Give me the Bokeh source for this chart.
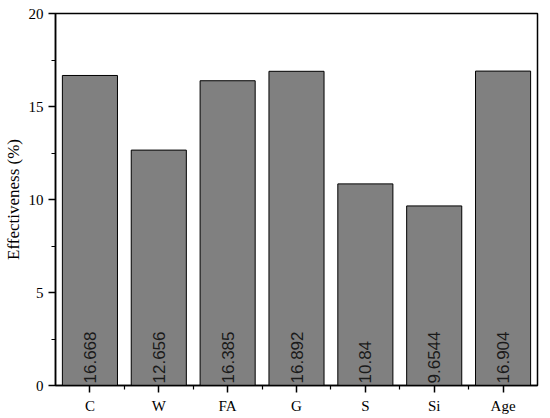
import math
from bokeh.plotting import figure
from bokeh.models import ColumnDataSource, FixedTicker, Range1d
from bokeh.core.properties import value
from bokeh.embed import file_html
from bokeh.resources import INLINE

categories = ["C", "W", "FA", "G", "S", "Si", "Age"]
effectiveness = [16.668, 12.656, 16.385, 16.892, 10.84, 9.6544, 16.904]
value_labels = ["16.668", "12.656", "16.385", "16.892", "10.84", "9.6544", "16.904"]
y_ticks = [0, 5, 10, 15, 20]
y_minor_ticks = [2.5, 7.5, 12.5, 17.5]

xpos = [i + 0.5 for i in range(len(categories))]
source = ColumnDataSource(dict(x=xpos, top=effectiveness, label=value_labels,
                               base=[0] * len(categories)))

p = figure(width=545, height=416, output_backend="svg", toolbar_location=None,
           x_range=Range1d(0, len(categories)), y_range=Range1d(0, 20),
           min_border_left=55, min_border_right=8, min_border_top=13, min_border_bottom=10)

p.vbar(x="x", top="top", width=0.8, source=source, fill_color="#808080",
       line_color="#000000", line_width=1)

p.text(x="x", y="base", text="label", source=source, angle=math.pi / 2,
       text_align="left", text_baseline="middle", y_offset=-2,
       text_font=value("Liberation Sans"), text_font_size="17px", text_color="#1a1a1a")

p.grid.visible = False
p.outline_line_color = "#000000"
p.outline_line_width = 1.5
p.background_fill_color = "white"
p.border_fill_color = "white"

xa = p.xaxis[0]
xa.ticker = FixedTicker(ticks=xpos, minor_ticks=list(range(1, len(categories))))
xa.major_label_overrides = {x: c for x, c in zip(xpos, categories)}
ya = p.yaxis[0]
ya.ticker = FixedTicker(ticks=y_ticks, minor_ticks=y_minor_ticks)
ya.axis_label = "Effectiveness (%)"

for ax in (xa, ya):
    ax.axis_line_width = 1.5
    ax.axis_line_color = "#000000"
    ax.major_tick_line_color = "#000000"
    ax.minor_tick_line_color = "#000000"
    ax.major_tick_line_width = 1.5
    ax.minor_tick_line_width = 1.2
    ax.major_tick_in = 0
    ax.major_tick_out = 7
    ax.minor_tick_in = 0
    ax.minor_tick_out = 4
    ax.major_label_text_font = "Liberation Serif"
    ax.major_label_text_font_size = "15px"
    ax.major_label_text_color = "#000000"
    ax.major_label_standoff = 5

ya.axis_label_text_font = "Liberation Serif"
ya.axis_label_text_font_size = "17px"
ya.axis_label_text_font_style = "normal"
ya.axis_label_text_color = "#000000"
ya.axis_label_standoff = 3

open("out.html", "w").write(file_html(p, INLINE))
